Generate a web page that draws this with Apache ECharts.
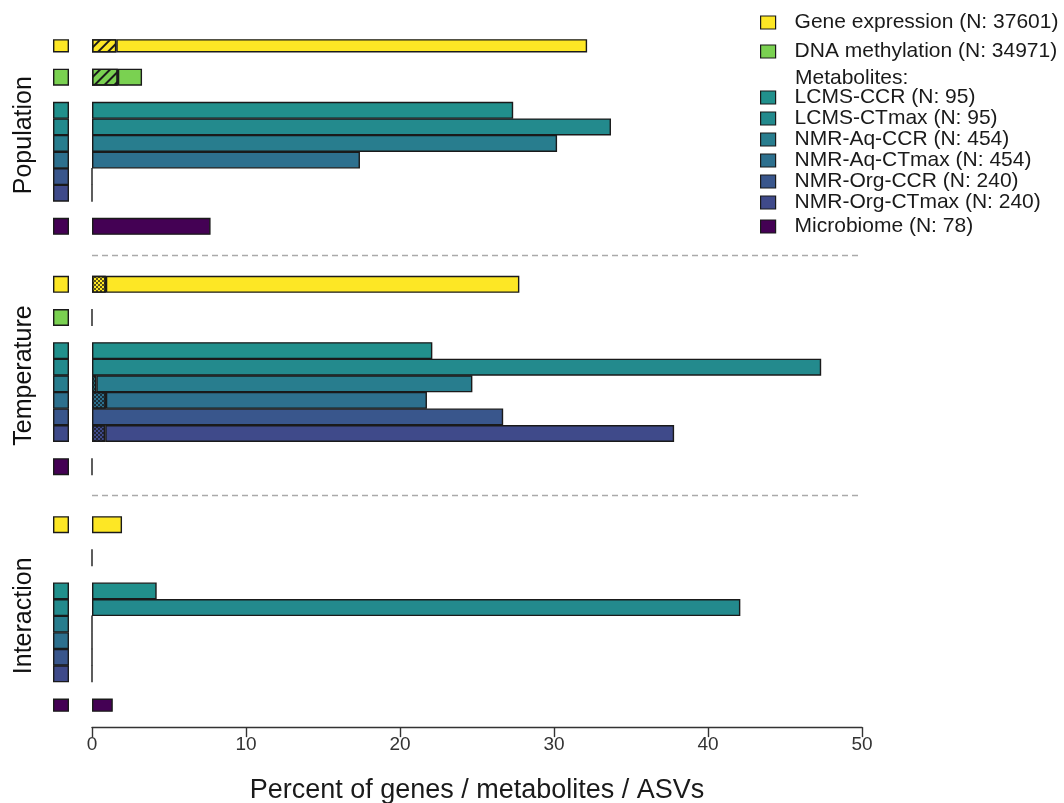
<!DOCTYPE html>
<html><head><meta charset="utf-8">
<script src="https://cdn.jsdelivr.net/npm/echarts@6/dist/echarts.min.js"></script>
<style>html,body{margin:0;padding:0;background:#fff}#c{width:1064px;height:803px}</style>
</head><body><div id="c"></div>
<script>
// ---- data ----
const sections = ['Population', 'Temperature', 'Interaction'];
const layers = ['Gene expression', 'DNA methylation', 'LCMS-CCR', 'LCMS-CTmax', 'NMR-Aq-CCR', 'NMR-Aq-CTmax', 'NMR-Org-CCR', 'NMR-Org-CTmax', 'Microbiome'];
const layerN = [37601, 34971, 95, 95, 454, 454, 240, 240, 78];
const layerColors = ['#FDE725', '#7AD151', '#21908C', '#238A8D', '#287D8E', '#2D708E', '#39568C', '#3F4A8A', '#440154'];
// percent of features significant, per section (same order as layers)
const popPercent  = [32.15, 3.25, 27.35, 33.7, 30.2, 17.4, 0, 0, 7.7];
const tempPercent = [27.75, 0, 22.1, 47.35, 24.7, 21.75, 26.7, 37.8, 0];
const intPercent  = [1.95, 0, 4.2, 42.1, 0, 0, 0, 0, 1.35];
// hatched (sub-)portion of each bar
const popHatched  = [1.58, 1.68, 0, 0, 0, 0, 0, 0, 0];
const tempHatched = [0.9, 0, 0, 0, 0.28, 0.9, 0, 0.86, 0];
const intHatched  = [0, 0, 0, 0, 0, 0, 0, 0, 0];
// which layers were tested in each section (coloured squares on the left)
const popTested  = [1, 1, 1, 1, 1, 1, 1, 1, 1];
const tempTested = [1, 1, 1, 1, 1, 1, 1, 1, 1];
const intTested  = [1, 0, 1, 1, 1, 1, 1, 1, 1];
const xTicks = [0, 10, 20, 30, 40, 50];

// ---- layout of rows (slots on a category axis) ----
const rowOffset = [0, 4, 8, 10, 12, 14, 16, 18, 22];
const sectionStart = [0, 29, 58];
const sectionLabelSlot = [11, 40, 69];
const nSlots = 81;
const separators = [25.5, 54.5];

const percents = [popPercent, tempPercent, intPercent];
const hatched = [popHatched, tempHatched, intHatched];
const tested = [popTested, tempTested, intTested];

const slots = Array.from({length: nSlots}, (_, i) => String(i));
const slotLabel = {};
sections.forEach((s, k) => { slotLabel[String(sectionLabelSlot[k])] = s; });

const decalDiag = {symbol: 'rect', symbolSize: 1, dashArrayX: [1, 0], dashArrayY: [1.6, 4.6], rotation: -Math.PI / 4, color: '#1a1a1a'};
const decalCheck = {symbol: 'rect', symbolSize: 1, dashArrayX: [[2, 2], [0, 2, 2, 0]], dashArrayY: [2, 0], rotation: 0, color: 'rgba(20,20,20,0.7)'};
const decals = [decalDiag, decalCheck, decalDiag];

const hatchData = Array(nSlots).fill('-');
const restData = Array(nSlots).fill('-');
sections.forEach((s, k) => {
  layers.forEach((l, j) => {
    const slot = sectionStart[k] + rowOffset[j];
    const h = hatched[k][j];
    const tot = percents[k][j];
    if (h > 0) hatchData[slot] = {value: h, itemStyle: {color: layerColors[j], decal: decals[k]}};
    restData[slot] = {value: +(tot - h).toFixed(3), itemStyle: {color: layerColors[j]}};
  });
});

const border = {borderColor: '#1a1a1a', borderWidth: 1.4};
const BW = 17;
const FONT = 'Liberation Sans, Arial, sans-serif';

const squareSeries = layers.map((l, j) => {
  const d = Array(nSlots).fill('-');
  sections.forEach((s, k) => { if (tested[k][j]) d[sectionStart[k] + rowOffset[j]] = 1; });
  return {
    name: l + ' (N: ' + layerN[j] + ')', type: 'bar', xAxisIndex: 1, yAxisIndex: 1, stack: 'sq',
    barWidth: BW, data: d, silent: true,
    itemStyle: Object.assign({color: layerColors[j]}, border)
  };
});
const names = squareSeries.map(s => s.name);

const legendCommon = {
  orient: 'vertical', left: 755, icon: 'rect', itemWidth: 15, itemHeight: 13, selectedMode: false,
  itemStyle: {borderColor: '#1a1a1a', borderWidth: 1.2},
  textStyle: {fontFamily: FONT, fontSize: 21, lineHeight: 20, color: '#1a1a1a', padding: [0, 0, 0, 14]}
};

const option = {
  animation: false,
  backgroundColor: '#fff',
  title: {text: 'Metabolites:', left: 790, top: 63, textStyle: {fontFamily: FONT, fontSize: 21, fontWeight: 'normal', color: '#1a1a1a'}},
  legend: [
    Object.assign({}, legendCommon, {top: 7, itemGap: 8, data: names.slice(0, 2)}),
    Object.assign({}, legendCommon, {top: 82, itemGap: 0, data: names.slice(2, 8)}),
    Object.assign({}, legendCommon, {top: 211, itemGap: 0, data: names.slice(8)})
  ],
  grid: [
    {left: 92, right: 202, top: 39.86, bottom: 91.86, outerBoundsMode: 'none', containLabel: false},
    {left: 53, width: 16, top: 39.86, bottom: 91.86, outerBoundsMode: 'none', containLabel: false}
  ],
  xAxis: [
    {gridIndex: 0, type: 'value', min: xTicks[0], max: xTicks[xTicks.length - 1], interval: 10, offset: 16,
     axisLine: {show: true, onZero: false, lineStyle: {color: '#333', width: 1.4}},
     axisTick: {show: true, length: 10, lineStyle: {color: '#333', width: 1.4}},
     axisLabel: {margin: 8, fontFamily: FONT, fontSize: 19, color: '#333'},
     splitLine: {show: false},
     name: 'Percent of genes / metabolites / ASVs', nameLocation: 'middle', nameGap: 50,
     nameTextStyle: {fontFamily: FONT, fontSize: 27, color: '#1a1a1a'}},
    {gridIndex: 1, type: 'value', min: 0, max: 1, show: false}
  ],
  yAxis: [
    {gridIndex: 0, type: 'category', data: slots, inverse: true, show: false},
    {gridIndex: 1, type: 'category', data: slots, inverse: true,
     axisLine: {show: false}, axisTick: {show: false},
     axisLabel: {interval: 0, rotate: 90, margin: 16, fontFamily: FONT, fontSize: 25, color: '#111',
       formatter: v => slotLabel[v] || ''}},
    {gridIndex: 0, type: 'value', min: -0.5, max: nSlots - 0.5, inverse: true, show: false}
  ],
  series: [
    {name: 'hatched', type: 'bar', xAxisIndex: 0, yAxisIndex: 0, stack: 'main', barWidth: BW,
     data: hatchData, itemStyle: border, silent: true},
    {name: 'rest', type: 'bar', xAxisIndex: 0, yAxisIndex: 0, stack: 'main', barWidth: BW,
     data: restData, itemStyle: border, silent: true},
    {name: 'sep', type: 'line', xAxisIndex: 0, yAxisIndex: 2, data: [], silent: true,
     markLine: {silent: true, symbol: 'none', label: {show: false},
       lineStyle: {color: '#aaaaaa', type: [6, 4], width: 1.3},
       data: separators.map(v => ({yAxis: v}))}}
  ].concat(squareSeries)
};

const chart = echarts.init(document.getElementById('c'), null, {renderer: 'canvas'});
chart.setOption(option);
</script>
</body></html>
